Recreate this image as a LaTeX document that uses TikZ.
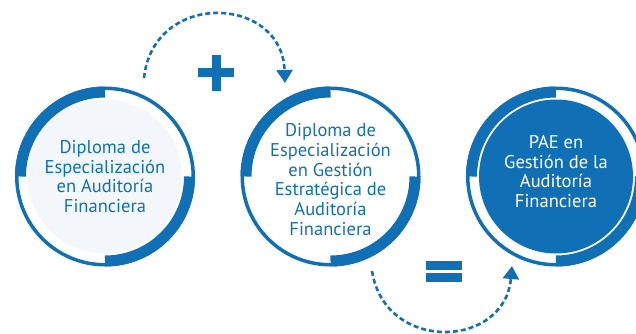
\documentclass[tikz,border=0pt]{standalone}
\usepackage{fontspec}
\setmainfont{PT Sans}
\usepackage{tikz}
\usetikzlibrary{arrows.meta}
\definecolor{paeblue}{RGB}{17,112,181}
\definecolor{paelight}{RGB}{243,247,251}

\begin{document}
\begin{tikzpicture}[x=1pt, y=1pt, node distance=225.5pt]
\useasboundingbox (0,0) rectangle (636,333);
% Define styles
\tikzstyle{core} = [circle, minimum size=154pt, inner sep=0pt]
\tikzstyle{ring} = [circle, minimum size=176.5pt, inner sep=0pt, draw=paeblue, line width=3.5pt]
\tikzstyle{caption} = [align=center, font=\fontsize{18.5}{19.8}\selectfont, text=paeblue]
\tikzstyle{band} = [draw=paeblue, line width=11pt]
\tikzstyle{sign} = [fill=paeblue]
\tikzstyle{dasharc} = [draw=paeblue, line width=2.6pt, dash pattern=on 5pt off 3pt, -{Triangle[length=13pt,width=16pt]}]
% Place nodes
\node (dipA) [core, fill=paelight] at (105,156.5) {};
\node (dipB) [core, right of=dipA] {};
\node (pae) [core, fill=paeblue, right of=dipB] {};
\node (ringA) [ring] at (dipA) {};
\node (ringB) [ring] at (dipB) {};
\node (ringC) [ring] at (pae) {};
\node (dipAtxt) [caption] at (dipA) {Diploma de\\Especialización\\en Auditoría\\Financiera};
\node (dipBtxt) [caption, yshift=-3pt] at (dipB) {Diploma de\\Especialización\\en Gestión\\Estratégica de\\Auditoría\\Financiera};
\node (paetxt) [caption, text=white, yshift=5pt] at (pae) {PAE en\\Gestión de la\\Auditoría\\Financiera};
% Thick quarter bands
\draw [band] (dipA.center) ++(180:84.5) arc[start angle=180, end angle=90, radius=84.5];
\draw [band] (dipA.center) ++(0:84.5) arc[start angle=0, end angle=-90, radius=84.5];
\draw [band] (dipB.center) ++(180:84.5) arc[start angle=180, end angle=90, radius=84.5];
\draw [band] (dipB.center) ++(0:84.5) arc[start angle=0, end angle=-90, radius=84.5];
\draw [band] (pae.center) ++(180:84.5) arc[start angle=180, end angle=90, radius=84.5];
\draw [band] (pae.center) ++(0:84.5) arc[start angle=0, end angle=-90, radius=84.5];
% Plus and equals
\coordinate (plus) at (216,260.5);
\coordinate (equal) at (444,61.5);
\fill [sign] (plus) ++(-18,-4.5) rectangle ++(36,9);
\fill [sign] (plus) ++(-4.5,-18) rectangle ++(9,36);
\fill [sign] (equal) ++(-18,1.5) rectangle ++(36,9);
\fill [sign] (equal) ++(-18,-10.5) rectangle ++(36,9);
% Draw arrows
\coordinate (fromA) at (144,255);
\coordinate (toB) at (285,250);
\coordinate (fromB) at (372,62);
\coordinate (toC) at (512,67);
\draw [dasharc] (fromA) to[out=84, in=92, looseness=1.6] (toB);
\draw [dasharc] (fromB) to[out=-81, in=-95, looseness=1.52] (toC);
\end{tikzpicture}
\end{document}
